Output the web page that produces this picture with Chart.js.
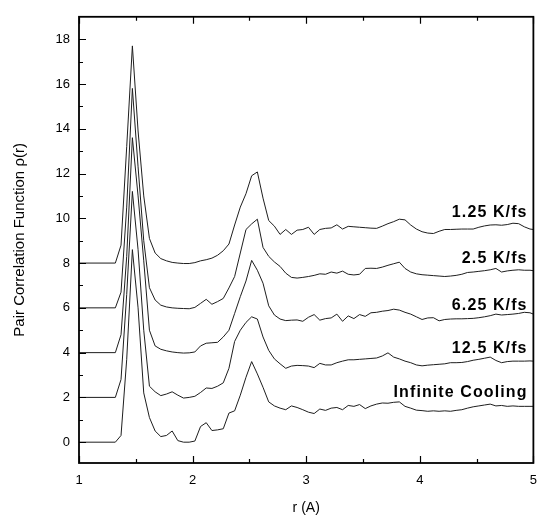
<!DOCTYPE html>
<html>
<head>
<meta charset="utf-8">
<script src="https://cdn.jsdelivr.net/npm/chart.js@4/dist/chart.umd.min.js"></script>
<style>
html,body{margin:0;padding:0;background:#fff;}
#wrap{width:547px;height:518px;position:relative;}
</style>
</head>
<body>
<div id="wrap"><canvas id="c" width="547" height="518"></canvas></div>
<script>
// ---- data ----
const seriesNames = ["1.25 K/fs", "2.5 K/fs", "6.25 K/fs", "12.5 K/fs", "Infinite Cooling"];
const r = [1.00, 1.32, 1.37, 1.42, 1.47, 1.52, 1.57, 1.62, 1.67, 1.72, 1.77, 1.82, 1.87, 1.92, 1.97,
  2.02, 2.07, 2.12, 2.17, 2.22, 2.27, 2.32, 2.37, 2.42, 2.47, 2.52, 2.57, 2.62, 2.67, 2.72, 2.77, 2.82, 2.87, 2.92,
  2.97, 3.02, 3.07, 3.12, 3.17, 3.22, 3.27, 3.32, 3.37, 3.42, 3.47, 3.52, 3.57, 3.62, 3.67, 3.72, 3.77, 3.82, 3.87, 3.92,
  3.97, 4.02, 4.07, 4.12, 4.17, 4.22, 4.27, 4.32, 4.37, 4.42, 4.47, 4.52, 4.57, 4.62, 4.67, 4.72, 4.77, 4.82, 4.87, 4.92,
  4.97, 5.00];
const rate1_25 = [8, 8, 8.8, 13.2, 17.7, 13.9, 11.0, 9.1, 8.45, 8.2, 8.1, 8.03, 8.0, 7.98, 7.98,
  8.02, 8.1, 8.15, 8.22, 8.35, 8.55, 8.85, 9.7, 10.5, 11.1, 11.9, 12.07, 10.9, 9.9, 9.65, 9.28, 9.5, 9.28, 9.47,
  9.5, 9.6, 9.28, 9.5, 9.55, 9.57, 9.71, 9.52, 9.64, 9.62, 9.6, 9.58, 9.56, 9.55, 9.65, 9.76, 9.85, 9.96, 9.93, 9.7,
  9.52, 9.4, 9.34, 9.32, 9.42, 9.5, 9.5, 9.51, 9.52, 9.52, 9.52, 9.6, 9.66, 9.7, 9.71, 9.69, 9.72, 9.78, 9.76, 9.62,
  9.52, 9.5];
const rate2_5 = [6, 6, 6.7, 10.5, 15.8, 12.3, 9.0, 6.9, 6.35, 6.12, 6.04, 6.0, 5.98, 5.97, 5.96,
  6.02, 6.2, 6.38, 6.16, 6.28, 6.42, 6.89, 7.4, 8.45, 9.5, 9.75, 9.96, 8.7, 8.3, 8.05, 7.85, 7.55, 7.36, 7.33,
  7.36, 7.4, 7.45, 7.52, 7.5, 7.6, 7.55, 7.64, 7.5, 7.47, 7.5, 7.76, 7.77, 7.76, 7.82, 7.9, 7.97, 8.04, 7.76, 7.6,
  7.52, 7.48, 7.46, 7.44, 7.42, 7.4, 7.42, 7.45, 7.5, 7.58, 7.6, 7.63, 7.66, 7.7, 7.76, 7.6, 7.65, 7.68, 7.7, 7.68,
  7.68, 7.66];
const rate6_25 = [4, 4, 4.8, 8.3, 13.6, 11.0, 8.1, 5.0, 4.3, 4.15, 4.08, 4.03, 4.0, 3.98, 3.99,
  4.03, 4.3, 4.42, 4.44, 4.46, 4.7, 5.0, 5.75, 6.5, 7.2, 8.12, 7.68, 7.1, 6.09, 5.68, 5.5, 5.43, 5.45, 5.46,
  5.4, 5.58, 5.7, 5.45, 5.52, 5.55, 5.72, 5.4, 5.64, 5.52, 5.7, 5.62, 5.78, 5.8, 5.85, 5.88, 5.94, 5.9, 5.8, 5.72,
  5.6, 5.48, 5.55, 5.56, 5.42, 5.48, 5.5, 5.51, 5.51, 5.52, 5.53, 5.56, 5.6, 5.65, 5.72, 5.68, 5.7, 5.72, 5.75, 5.8,
  5.78, 5.72];
const rate12_5 = [2, 2, 2.8, 6.6, 11.2, 8.6, 5.0, 2.5, 2.25, 2.08, 2.15, 2.25, 2.1, 1.97, 2.0,
  2.05, 2.22, 2.42, 2.4, 2.5, 2.65, 3.3, 4.5, 5.0, 5.35, 5.6, 5.5, 4.7, 4.1, 3.72, 3.5, 3.3, 3.4, 3.43,
  3.42, 3.4, 3.33, 3.52, 3.45, 3.45, 3.55, 3.62, 3.68, 3.68, 3.7, 3.72, 3.74, 3.76, 3.85, 3.99, 3.8, 3.72, 3.62, 3.55,
  3.45, 3.41, 3.44, 3.46, 3.48, 3.5, 3.55, 3.55, 3.56, 3.6, 3.66, 3.7, 3.75, 3.8, 3.65, 3.55, 3.6, 3.62, 3.62, 3.62,
  3.63, 3.62];
const rateInfinite = [0, 0, 0.3, 3.7, 8.6, 6.0, 2.2, 1.1, 0.5, 0.25, 0.3, 0.5, 0.07, 0.0, 0.0,
  0.05, 0.7, 0.87, 0.52, 0.55, 0.6, 1.3, 1.4, 2.1, 2.9, 3.6, 3.05, 2.45, 1.8, 1.62, 1.52, 1.45, 1.62, 1.55,
  1.45, 1.34, 1.28, 1.48, 1.42, 1.52, 1.55, 1.45, 1.64, 1.6, 1.68, 1.5, 1.62, 1.7, 1.75, 1.74, 1.78, 1.8, 1.6, 1.52,
  1.43, 1.41, 1.38, 1.4, 1.38, 1.4, 1.38, 1.42, 1.45, 1.52, 1.58, 1.62, 1.66, 1.7, 1.62, 1.64, 1.6, 1.62, 1.6, 1.6,
  1.6, 1.6];
const xTickLabels = [1, 2, 3, 4, 5];
const xMinorTicks = [1.5, 2.5, 3.5, 4.5];
const yTickLabels = [0, 2, 4, 6, 8, 10, 12, 14, 16, 18];
const yMinorTicks = [-1, 1, 3, 5, 7, 9, 11, 13, 15, 17];
const labelR = 4.94;
const labelLevels = [10.05, 7.99, 5.9, 3.99, 2.03];
// ---- end data ----

const FONT = '"Liberation Sans", Arial, Helvetica, sans-serif';
const allSeries = [rate1_25, rate2_5, rate6_25, rate12_5, rateInfinite];

const frameTicks = {
  id: 'frameTicks',
  afterDatasetsDraw(chart) {
    const {ctx, chartArea: {left, right, top, bottom}, scales: {x, y}} = chart;
    ctx.save();
    ctx.strokeStyle = '#000';
    ctx.lineWidth = 1.2;
    ctx.beginPath();
    xTickLabels.forEach(v => {
      const px = Math.round(x.getPixelForValue(v)) + 0.5;
      ctx.moveTo(px, bottom); ctx.lineTo(px, bottom - 7);
      ctx.moveTo(px, top); ctx.lineTo(px, top + 7);
    });
    xMinorTicks.forEach(v => {
      const px = Math.round(x.getPixelForValue(v)) + 0.5;
      ctx.moveTo(px, bottom); ctx.lineTo(px, bottom - 4);
      ctx.moveTo(px, top); ctx.lineTo(px, top + 4);
    });
    yTickLabels.forEach(v => {
      const py = Math.round(y.getPixelForValue(v)) + 0.5;
      ctx.moveTo(left, py); ctx.lineTo(left + 7, py);
    });
    yMinorTicks.forEach(v => {
      if (v < y.min) return;
      const py = Math.round(y.getPixelForValue(v)) + 0.5;
      ctx.moveTo(left, py); ctx.lineTo(left + 4, py);
    });
    ctx.stroke();
    ctx.lineWidth = 1.8;
    ctx.strokeRect(left, top, right - left, bottom - top);

    ctx.fillStyle = '#000';
    ctx.font = 'bold 16px ' + FONT;
    try { ctx.letterSpacing = '1.1px'; } catch (e) {}
    ctx.textAlign = 'right';
    ctx.textBaseline = 'alphabetic';
    seriesNames.forEach((n, i) => {
      ctx.fillText(n, x.getPixelForValue(labelR) + 1, y.getPixelForValue(labelLevels[i]));
    });
    ctx.restore();
  }
};

new Chart(document.getElementById('c'), {
  type: 'line',
  data: {
    datasets: allSeries.map((vals, i) => ({
      label: seriesNames[i],
      data: vals.map((v, k) => ({x: r[k], y: v})),
      borderColor: '#1e1e1e',
      borderWidth: 1,
      pointRadius: 0,
      tension: 0,
      fill: false
    }))
  },
  options: {
    responsive: false,
    animation: false,
    layout: {padding: {top: 6, right: 10, left: 0, bottom: 0}},
    plugins: {legend: {display: false}, tooltip: {enabled: false}},
    scales: {
      x: {
        type: 'linear', min: 1, max: 5,
        afterBuildTicks: s => { s.ticks = xTickLabels.map(v => ({value: v})); },
        afterFit: s => { s.height = 55; },
        grid: {display: false, drawTicks: false},
        border: {display: false},
        ticks: {padding: 10, color: '#000', font: {size: 13, family: FONT}, maxRotation: 0, autoSkip: false},
        title: {display: true, text: 'r (A)', color: '#000', font: {size: 14, family: FONT}, padding: {top: 0, bottom: 1}}
      },
      y: {
        type: 'linear', min: -0.93, max: 19,
        afterBuildTicks: s => { s.ticks = yTickLabels.map(v => ({value: v})); },
        afterFit: s => { s.width = 79; },
        grid: {display: false, drawTicks: false},
        border: {display: false},
        ticks: {padding: 9, color: '#000', font: {size: 13, family: FONT}, autoSkip: false},
        title: {display: true, text: 'Pair Correlation Function ρ(r)', color: '#000', font: {size: 15, family: FONT}, padding: {top: 11, bottom: 0}}
      }
    }
  },
  plugins: [frameTicks]
});
</script>
</body>
</html>
